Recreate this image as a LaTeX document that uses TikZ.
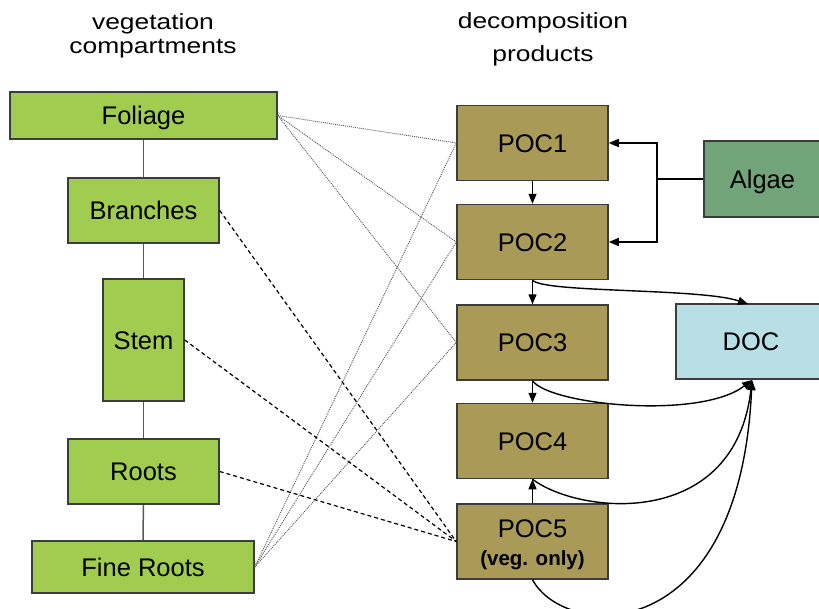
\documentclass[tikz,border=0pt]{standalone}
\usepackage{fontspec}
\setmainfont{Liberation Sans}
\newfontfamily\titlefont[FakeStretch=1.2]{Liberation Sans}
\usetikzlibrary{arrows.meta}
\definecolor{vegfill}{HTML}{A0CC50}
\definecolor{pocfill}{HTML}{A99B57}
\definecolor{algfill}{HTML}{72A47A}
\definecolor{docfill}{HTML}{B8E0E4}
\definecolor{edgecol}{HTML}{3C3C3C}
\tikzset{
  box/.style={draw=edgecol, line width=1.5pt, inner sep=0pt, font=\fontsize{25.5}{28}\selectfont, text height=18.3pt, text depth=0pt},
  veg/.style={box, fill=vegfill},
  poc/.style={box, fill=pocfill, minimum width=151pt, minimum height=75pt},
  titletext/.style={font=\titlefont\fontsize{22}{24}\selectfont, anchor=base, inner sep=0pt},
  link/.style={draw=edgecol!85, line width=1.5pt},
  flow/.style={draw=black, line width=1.4pt, -{Triangle[length=10pt,width=8pt]}},
  fineline/.style={draw=black!65, line width=0.9pt, dash pattern=on 1pt off 1pt},
  vegdash/.style={draw=black, line width=1.2pt, dash pattern=on 4pt off 3pt},
}
\begin{document}
\begin{tikzpicture}[x=1pt,y=-1pt]
\useasboundingbox (0,0) rectangle (819,608);
% titles
\node[titletext] (t1) at (153,29) {vegetation};
\node[titletext] (t2) at (153,53) {compartments};
\node[titletext] (t3) at (543,28) {decomposition};
\node[titletext] (t4) at (543,61) {products};
% vegetation compartments
\node[veg, minimum width=267pt, minimum height=47pt] (fol) at (143.5,115.5) {Foliage};
\node[veg, minimum width=151pt, minimum height=65pt] (bra) at (143.5,210.5) {Branches};
\node[veg, minimum width=81pt, minimum height=122pt] (stem) at (143.5,340) {Stem};
\node[veg, minimum width=151pt, minimum height=65pt] (roots) at (143.5,471.5) {Roots};
\node[veg, minimum width=222pt, minimum height=52pt] (fine) at (143,567) {Fine Roots};
\draw[link] (fol) -- (bra);
\draw[link] (bra) -- (stem);
\draw[link] (stem) -- (roots);
\draw[link] (roots) -- (fine);
% POC
\node[poc] (poc1) at (532.5,143) {POC1};
\node[poc] (poc2) at (532.5,242) {POC2};
\node[poc] (poc3) at (532.5,342.5) {POC3};
\node[poc] (poc4) at (532.5,441) {POC4};
\node[poc] (poc5) at (532.5,541.5) {};
\node[inner sep=0pt, font=\fontsize{25.5}{28}\selectfont, text height=18.3pt, text depth=0pt] (poc5t) at (532.5,528) {POC5};
\node[inner sep=0pt, font=\bfseries\fontsize{20.5}{22}\selectfont, text height=14.7pt, text depth=0pt] (poc5v) at (532.5,557.7) {(veg. only)};
% Algae and DOC
\node[box, fill=algfill, minimum width=117pt, minimum height=76pt] (alg) at (762.5,179) {Algae};
\node[box, fill=docfill, minimum width=150pt, minimum height=75pt] (doc) at (751,341.5) {DOC};
% fine dotted links
\draw[fineline] (fol.east) -- (poc1.west);
\draw[fineline] (fol.east) -- (poc2.west);
\draw[fineline] (fol.east) -- (poc3.west);
\draw[fineline] (fine.east) -- (poc1.west);
\draw[fineline] (fine.east) -- (poc2.west);
\draw[fineline] (fine.east) -- (poc3.west);
% dashed links
\draw[vegdash] (bra.east) -- (poc5.west);
\draw[vegdash] (stem.east) -- (poc5.west);
\draw[vegdash] (roots.east) -- (poc5.west);
% POC chain
\draw[flow] (poc1) -- (poc2);
\draw[flow] (poc2) -- (poc3);
\draw[flow] (poc3) -- (poc4);
\draw[flow] (poc5) -- (poc4);
% algae
\coordinate (aj) at (657,179);
\draw[line width=1.4pt] (alg.west) -- (aj);
\draw[flow] (aj) |- (poc1.east);
\draw[flow] (aj) |- (poc2.east);
% to DOC
\coordinate (docin) at (748,304);
\coordinate (docb) at (752,380);
\draw[flow] (poc2.south) .. controls (545,293) and (700,288) .. (docin);
\draw[flow] (poc3.south) .. controls (550,405) and (700,420) .. (docb);
\draw[flow] (poc4.south) .. controls (580,515) and (735,530) .. (docb);
\draw[flow] (poc5.south) .. controls (565,640) and (740,650) .. (docb);
\end{tikzpicture}
\end{document}
